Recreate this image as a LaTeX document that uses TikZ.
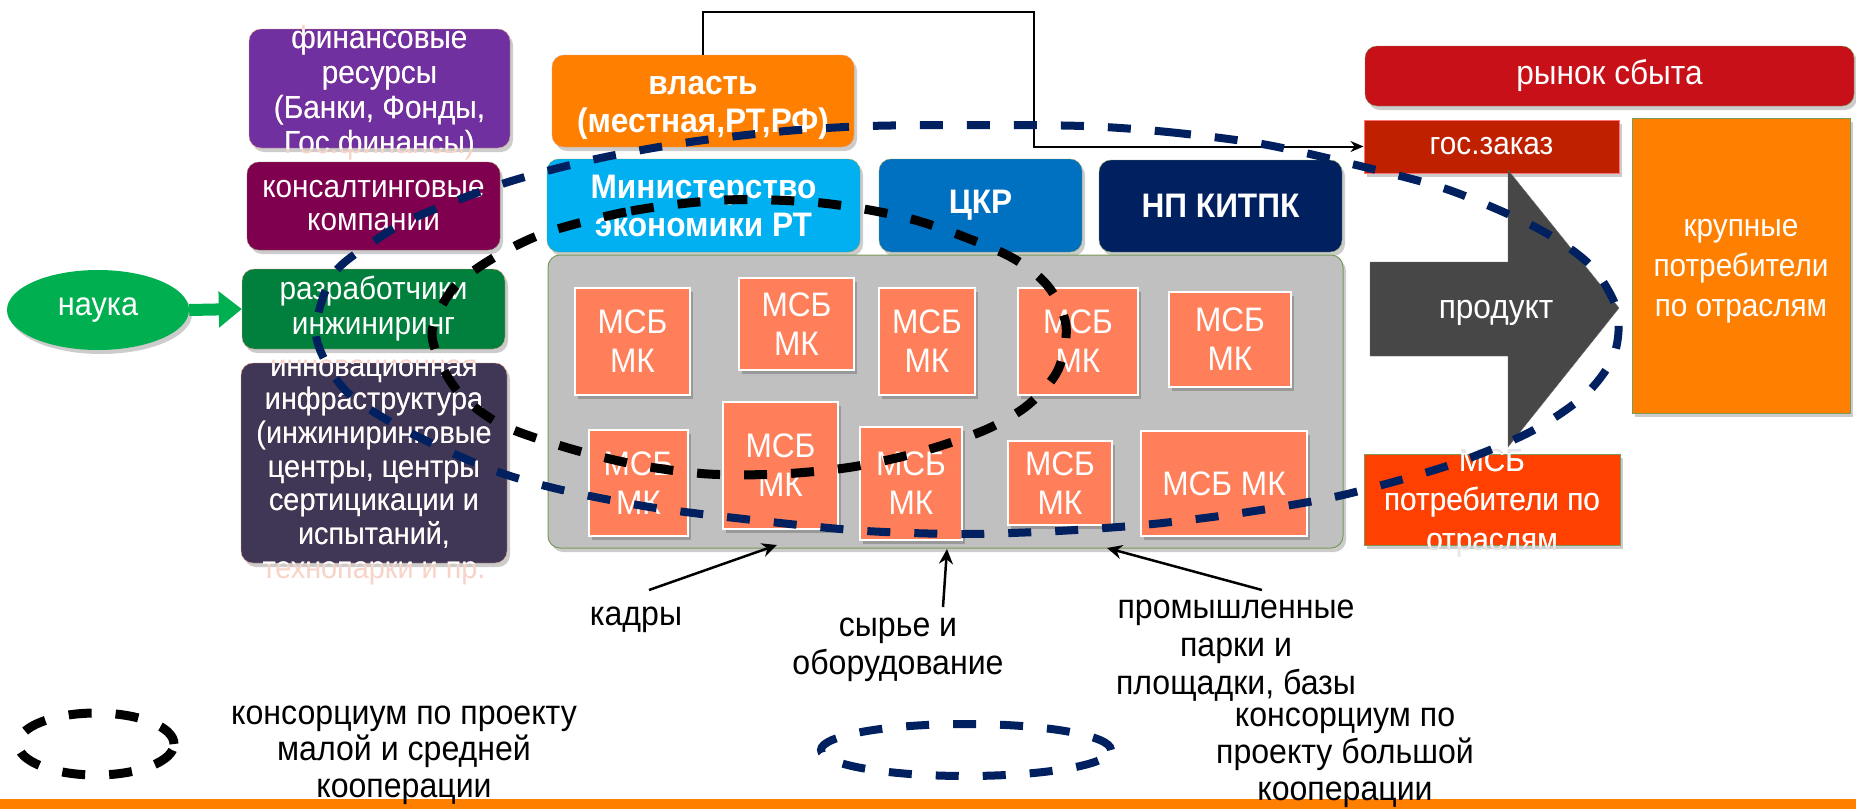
\documentclass[tikz,border=0pt]{standalone}
\usepackage{fontspec}
\setmainfont[FakeStretch=0.93]{Liberation Sans}
\usetikzlibrary{shapes.geometric, arrows.meta, shadows}

\definecolor{nauka}{HTML}{00B050}
\definecolor{razrab}{HTML}{00803C}
\definecolor{finans}{HTML}{7030A0}
\definecolor{konsalt}{HTML}{7F004F}
\definecolor{infra}{HTML}{403757}
\definecolor{vlast}{HTML}{FF8000}
\definecolor{minek}{HTML}{00B0F0}
\definecolor{ckr}{HTML}{0070C0}
\definecolor{npk}{HTML}{002060}
\definecolor{pole}{HTML}{C0C0C0}
\definecolor{msb}{HTML}{FF7F5A}
\definecolor{rynok}{HTML}{C81018}
\definecolor{goszak}{HTML}{BF2000}
\definecolor{krupn}{HTML}{FF8000}
\definecolor{msbpotr}{HTML}{FF4000}
\definecolor{produkt}{HTML}{474747}
\definecolor{bigcoop}{HTML}{002060}
\definecolor{ramka}{HTML}{7A9A5A}
\definecolor{losos}{HTML}{E39A82}
\definecolor{blikcol}{HTML}{F8D3C8}
\definecolor{polosa}{HTML}{FF8000}

\newcommand{\finanstext}{финансовые\\ресурсы\\(Банки, Фонды,\\Гос.финансы)}
\newcommand{\infratext}{инновационная\\инфраструктура\\(инжиниринговые\\центры, центры\\сертицикации и\\испытаний,\\технопарки и пр.}
\newcommand{\msbpotrtext}{МСБ\\потребители по\\отраслям}

\tikzset{
	ten/.style={drop shadow={shadow xshift=3pt, shadow yshift=-4pt, fill=black, opacity=0.2}},
	blok/.style={rectangle, rounded corners=12pt, inner sep=0pt, align=center, text=white, font=\fontsize{32}{35}\selectfont},
	zhirnyj/.style={blok, font=\bfseries\fontsize{34}{38}\selectfont},
	pryam/.style={blok, rounded corners=0pt},
	msbblok/.style={pryam, fill=msb, draw=white, line width=1.5pt, font=\fontsize{34}{39}\selectfont, ten},
	nadpis/.style={align=center, inner sep=0pt, text=white, font=\fontsize{32}{35}\selectfont},
	podpis/.style={align=center, inner sep=0pt, text=black, font=\fontsize{34.5}{38}\selectfont},
	strelka/.style={line width=2.5pt, -{Stealth[length=15pt, width=14pt]}},
	krug/.style={dash pattern=on 23pt off 24pt, line width=9pt},
}

\begin{document}
\begin{tikzpicture}[x=1pt, y=-1pt]
	\useasboundingbox (0,0) rectangle (1856,809);
	\fill[white] (0,0) rectangle (1856,809);
	\fill[polosa] (0,799) rectangle (1856,809);

	\node[ellipse, fill=nauka, ten, inner sep=0pt, minimum width=182pt, minimum height=80pt,
		text=white, font=\fontsize{33}{35}\selectfont] (nauka) at (98,310) {наука};
	\node[blok, fill=razrab, draw=losos, ten, minimum width=263pt, minimum height=80pt] (razrab) at (373.5,309) {разработчики\\инжиниринг};
	\draw[nauka, line width=12pt, -{Triangle[length=23pt, width=35pt]}] (nauka.east) -- (razrab.west);

	\node[blok, fill=finans, draw=losos, ten, minimum width=261pt, minimum height=119pt] (finansy) at (379.5,88.5) {};
	\node[nadpis, text=blikcol] (finansy-blik) at (379.5,93) {\finanstext};
	\begin{scope}
		\clip[rounded corners=12pt] (finansy.south west) rectangle (finansy.north east);
		\node[nadpis] (finansy-text) at (379.5,93) {\finanstext};
	\end{scope}

	\node[blok, fill=konsalt, draw=losos!60!black, ten, minimum width=253pt, minimum height=88pt,
		font=\fontsize{32}{33}\selectfont] (konsalt) at (373.5,206) {консалтинговые\\компании};

	\node[blok, fill=infra, draw=losos, ten, minimum width=266pt, minimum height=200pt] (infra) at (374,463) {};
	\node[nadpis, text=blikcol, font=\fontsize{31}{33.7}\selectfont] (infra-blik) at (374,472) {\infratext};
	\begin{scope}
		\clip[rounded corners=12pt] (infra.south west) rectangle (infra.north east);
		\node[nadpis, font=\fontsize{31}{33.7}\selectfont] (infra-text) at (374,472) {\infratext};
	\end{scope}

	\node[zhirnyj, fill=vlast, draw=losos, ten, minimum width=302pt, minimum height=92pt] (vlast) at (703,101) {};
	\node[nadpis, font=\bfseries\fontsize{34}{38}\selectfont] (vlast-text) at (703,108) {власть\\(местная,РТ,РФ)};
	\node[zhirnyj, fill=minek, draw=ramka, ten, minimum width=313pt, minimum height=93pt] (minek) at (703.5,205.5) {Министерство\\экономики РТ};
	\node[zhirnyj, fill=ckr, draw=ramka, ten, minimum width=203pt, minimum height=93pt] (ckr) at (980.5,205.5) {ЦКР};
	\node[zhirnyj, fill=npk, draw=ramka, ten, minimum width=243pt, minimum height=92pt] (npkitpk) at (1220.5,206) {НП КИТПК};

	\node[blok, fill=pole, draw=ramka, line width=1pt, ten, minimum width=795pt, minimum height=293pt] (pole) at (945.5,401.5) {};
	\node[msbblok, minimum width=115pt, minimum height=107pt] (msb1) at (632.5,341.5) {МСБ\\МК};
	\node[msbblok, minimum width=115pt, minimum height=92pt] (msb2) at (796.5,324) {МСБ\\МК};
	\node[msbblok, minimum width=96pt, minimum height=107pt] (msb3) at (927,341.5) {МСБ\\МК};
	\node[msbblok, minimum width=120pt, minimum height=107pt] (msb4) at (1078,341.5) {МСБ\\МК};
	\node[msbblok, minimum width=122pt, minimum height=95pt] (msb5) at (1230,339.5) {МСБ\\МК};
	\node[msbblok, minimum width=99pt, minimum height=106pt] (msb6) at (638.5,483) {МСБ\\МК};
	\node[msbblok, minimum width=115pt, minimum height=127pt] (msb7) at (780.5,465.5) {МСБ\\МК};
	\node[msbblok, minimum width=102pt, minimum height=113pt] (msb8) at (911,483.5) {МСБ\\МК};
	\node[msbblok, minimum width=104pt, minimum height=84pt] (msb9) at (1060,483) {МСБ\\МК};
	\node[msbblok, minimum width=166pt, minimum height=105pt] (msb10) at (1224,483.5) {МСБ МК};

	\node[blok, fill=rynok, draw=ramka, ten, minimum width=489pt, minimum height=60pt,
		font=\fontsize{34}{35}\selectfont] (rynok) at (1609.5,76) {рынок сбыта};
	\node[pryam, fill=goszak, draw=red!55, line width=1pt, ten, minimum width=255pt, minimum height=53pt] (goszakaz) at (1491.5,146.5) {гос.заказ};
	\node[pryam, fill=krupn, draw=ramka, ten, minimum width=218pt, minimum height=295pt] (krupnye) at (1741,265.5) {};
	\node[nadpis, font=\fontsize{32}{40}\selectfont] (krupnye-text) at (1741,271) {крупные\\потребители\\по отраслям};

	\fill[produkt, draw=produkt!80!white] (1370,262) -- (1508,262) -- (1508,170) -- (1619,308)
		-- (1508,447) -- (1508,356) -- (1370,356) -- cycle;
	\node[nadpis, font=\fontsize{34}{35}\selectfont] (produkt) at (1496,313) {продукт};

	\node[pryam, fill=msbpotr, draw=ramka, ten, minimum width=256pt, minimum height=91pt] (msbpotr) at (1492,499.5) {};
	\node[nadpis, text=black!10, font=\fontsize{32}{39.5}\selectfont] (msbpotr-blik) at (1492,503) {\msbpotrtext};
	\begin{scope}
		\clip (msbpotr.south west) rectangle (msbpotr.north east);
		\node[nadpis, font=\fontsize{32}{39.5}\selectfont] (msbpotr-text) at (1492,503) {\msbpotrtext};
	\end{scope}

	\coordinate (povorot) at (1034,12);
	\draw[line width=2pt, -{Stealth[length=13pt, width=11pt]}] (vlast.north) |- (povorot) |- (goszakaz.west);

	\node[podpis] (kadry) at (636,620) {кадры};
	\node[podpis] (syrje) at (898,650) {сырье и\\оборудование};
	\node[podpis] (parki) at (1236,651) {промышленные\\парки и\\площадки, базы};
	\coordinate (kadry-ot) at (649,590);
	\coordinate (kadry-k) at (777,545);
	\coordinate (syrje-ot) at (943,607);
	\coordinate (syrje-k) at (947,549);
	\coordinate (parki-ot) at (1262,590);
	\coordinate (parki-k) at (1107,548);
	\draw[strelka] (kadry-ot) -- (kadry-k);
	\draw[strelka] (syrje-ot) -- (syrje-k);
	\draw[strelka] (parki-ot) -- (parki-k);

	\draw[krug, bigcoop, line width=8pt] plot[smooth cycle] coordinates {
		(1083,126) (1168,132) (1262,144) (1356,165) (1449,190) (1537,228) (1590,265) (1617,310)
		(1614,355) (1585,395) (1530,432) (1450,465) (1343,495) (1248,512) (1153,524) (1058,531)
		(963,534) (866,531) (771,522) (656,508) (562,490) (490,469) (405,430) (345,390)
		(316,335) (333,275) (373,242) (416,217) (505,183) (596,159) (690,142) (786,131)
		(869,126) (970,125)};
	\draw[krug, black] plot[smooth cycle] coordinates {
		(545,233) (631,211) (725,200) (822,203) (915,220) (1005,254) (1047,285) (1066,325)
		(1058,370) (1028,405) (985,430) (920,452) (852,467) (781,474) (708,474) (638,465)
		(568,448) (500,424) (455,388) (432,335) (452,290) (490,260)};

	\draw[krug, black] (96,744) ellipse [x radius=78pt, y radius=31pt];
	\node[podpis, font=\fontsize{34.5}{36.5}\selectfont] (legenda-mal) at (404,755) {консорциум по проекту\\малой и средней\\кооперации};
	\draw[krug, bigcoop, line width=8pt] (966,750) ellipse [x radius=145pt, y radius=26pt];
	\node[podpis, font=\fontsize{34.5}{37}\selectfont] (legenda-bol) at (1345,758) {консорциум по\\проекту большой\\кооперации};
\end{tikzpicture}
\end{document}
